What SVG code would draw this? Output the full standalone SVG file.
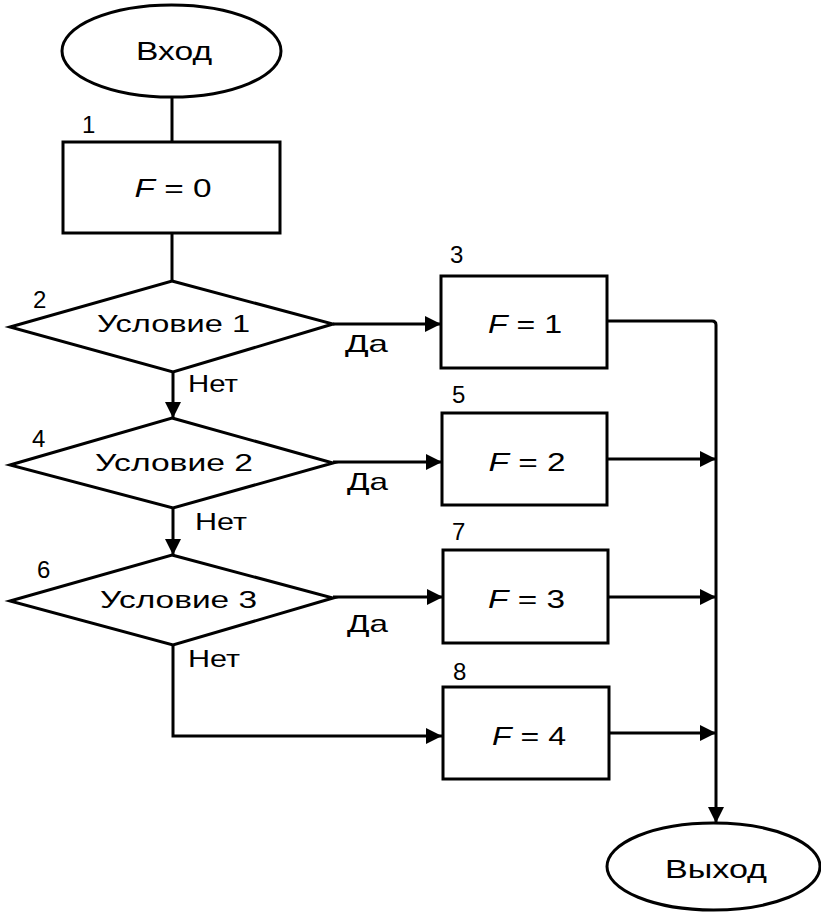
<svg xmlns="http://www.w3.org/2000/svg" width="821" height="912" viewBox="0 0 821 912">
<style>
.s{fill:#fff;stroke:#000;stroke-width:3}
.c{fill:none;stroke:#000;stroke-width:3}
text{font-family:"Liberation Sans",Arial,sans-serif;fill:#000}
.t{font-size:26px;text-anchor:middle}
.d{font-size:24px;text-anchor:middle}
.n{font-size:24px}
.l{font-size:24px}
.i{font-style:italic}
</style>
<defs>
<marker id="arr" viewBox="0 0 16 16" refX="16" refY="8" markerWidth="16" markerHeight="16" markerUnits="userSpaceOnUse" orient="auto">
<path d="M0,0 L16,8 L0,16 Z" fill="#000"/>
</marker>
</defs>
<rect width="821" height="912" fill="#fff"/>
<g id="connectors">
<path class="c" d="M172,97 V142"/>
<path class="c" d="M172,233 V281"/>
<path class="c" d="M173,372 V418" marker-end="url(#arr)"/>
<path class="c" d="M173,508 V555" marker-end="url(#arr)"/>
<path class="c" d="M173,645 V736 H442" marker-end="url(#arr)"/>
<path class="c" d="M333,324 H441" marker-end="url(#arr)"/>
<path class="c" d="M333,462 H442" marker-end="url(#arr)"/>
<path class="c" d="M333,597 H443" marker-end="url(#arr)"/>
<path class="c" d="M607,321 H712 Q716,321 716,325 V823" marker-end="url(#arr)"/>
<path class="c" d="M607,459 H716" marker-end="url(#arr)"/>
<path class="c" d="M608,597 H716" marker-end="url(#arr)"/>
<path class="c" d="M609,733 H716" marker-end="url(#arr)"/>
<text class="l" x="345" y="352" textLength="43" lengthAdjust="spacingAndGlyphs">Да</text>
<text class="l" x="188" y="392" textLength="50" lengthAdjust="spacingAndGlyphs">Нет</text>
<text class="l" x="347" y="490" textLength="41" lengthAdjust="spacingAndGlyphs">Да</text>
<text class="l" x="195" y="530" textLength="52" lengthAdjust="spacingAndGlyphs">Нет</text>
<text class="l" x="347" y="632" textLength="41" lengthAdjust="spacingAndGlyphs">Да</text>
<text class="l" x="188" y="667" textLength="52" lengthAdjust="spacingAndGlyphs">Нет</text>
</g>
<g id="start">
<ellipse class="s" cx="171.5" cy="51" rx="109.5" ry="46"/>
<text class="t" x="174" y="60" textLength="76" lengthAdjust="spacingAndGlyphs">Вход</text>
</g>
<g id="node1">
<rect class="s" x="63" y="142" width="217" height="91"/>
<text class="n" x="82" y="133">1</text>
<text class="t" x="173" y="197" textLength="77" lengthAdjust="spacingAndGlyphs"><tspan class="i">F</tspan> = 0</text>
</g>
<g id="node2">
<polygon class="s" points="172,281 333,324 173,372 10,327"/>
<text class="n" x="33" y="308">2</text>
<text class="d" x="173.5" y="332" textLength="153" lengthAdjust="spacingAndGlyphs">Условие 1</text>
</g>
<g id="node3">
<rect class="s" x="441" y="276" width="166" height="92"/>
<text class="n" x="450" y="263">3</text>
<text class="t" x="525" y="333" textLength="74" lengthAdjust="spacingAndGlyphs"><tspan class="i">F</tspan> = 1</text>
</g>
<g id="node4">
<polygon class="s" points="172,418 333,463 173,508 10,465"/>
<text class="n" x="32" y="447">4</text>
<text class="d" x="174" y="471" textLength="158" lengthAdjust="spacingAndGlyphs">Условие 2</text>
</g>
<g id="node5">
<rect class="s" x="442" y="413" width="165" height="92"/>
<text class="n" x="452" y="403">5</text>
<text class="t" x="527" y="471" textLength="77" lengthAdjust="spacingAndGlyphs"><tspan class="i">F</tspan> = 2</text>
</g>
<g id="node6">
<polygon class="s" points="172,555 333,598 173,645 10,601"/>
<text class="n" x="37" y="578">6</text>
<text class="d" x="178.5" y="608" textLength="157" lengthAdjust="spacingAndGlyphs">Условие 3</text>
</g>
<g id="node7">
<rect class="s" x="443" y="550" width="165" height="93"/>
<text class="n" x="452" y="540">7</text>
<text class="t" x="526.5" y="608" textLength="77" lengthAdjust="spacingAndGlyphs"><tspan class="i">F</tspan> = 3</text>
</g>
<g id="node8">
<rect class="s" x="443" y="687" width="166" height="92"/>
<text class="n" x="453" y="680">8</text>
<text class="t" x="529" y="745" textLength="74" lengthAdjust="spacingAndGlyphs"><tspan class="i">F</tspan> = 4</text>
</g>
<g id="end">
<ellipse class="s" cx="713.5" cy="866.5" rx="106.5" ry="43.5"/>
<text class="t" x="716" y="878" textLength="102" lengthAdjust="spacingAndGlyphs">Выход</text>
</g>
</svg>
